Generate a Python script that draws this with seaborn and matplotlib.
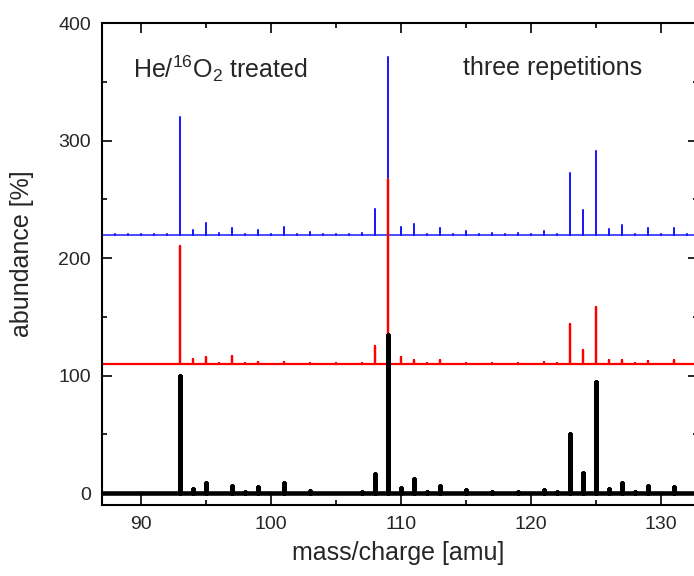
import numpy as np
import pandas as pd
import matplotlib
matplotlib.use("Agg")
import matplotlib.pyplot as plt
import seaborn as sns

# ---------------- data ----------------
masses = list(range(88, 133))
black_vals = [0.5, 0.5, 0.3, 0.5, 0.3, 100, 4, 8.5, 0.5, 6, 1, 5, 0.5, 9, 0.5,
              1.5, 0.3, 0.5, 0.3, 1, 16, 135, 4.5, 12, 0.8, 6.5, 0.5, 2.5, 0.3,
              1, 0.3, 1, 0.3, 2.5, 0.8, 50, 17.5, 95, 3.5, 8.5, 1, 6.5, 0.5, 5.5, 0.5]
red_vals = [0.3, 0.3, 0.3, 0.3, 0.3, 100, 4, 6, 0.5, 6.5, 0.5, 1.5, 0.3, 2, 0.3,
            0.8, 0.3, 0.5, 0.3, 0.8, 15, 157, 6, 3, 0.5, 3, 0.3, 1, 0.3,
            0.8, 0.3, 0.8, 0.3, 1.5, 0.5, 34, 12, 48, 3, 3, 0.5, 2.5, 0.3, 3, 0.3]
blue_vals = [0.3, 0.3, 0.3, 0.3, 0.3, 100, 4.3, 10, 1, 5.5, 0.5, 4, 0.5, 6.3, 0.3,
             2, 0.3, 0.5, 0.3, 1.5, 22, 151, 6.5, 9, 0.8, 6, 0.3, 3, 0.3,
             1, 0.3, 1, 0.3, 3, 0.5, 52, 21, 71, 5, 8.5, 0.5, 6, 0.3, 6, 0.5]
offsets = {"black": 0, "red": 110, "blue": 220}
x_ticks = [90, 100, 110, 120, 130]
y_ticks = [0, 100, 200, 300, 400]
x_limits = (87, 132.85)
y_limits = (-10, 400)

# ---------------- style ----------------
sns.set_style("ticks")
plt.rcParams["font.family"] = ["Liberation Sans", "DejaVu Sans"]
plt.rcParams["mathtext.fontset"] = "custom"
plt.rcParams["mathtext.rm"] = "Liberation Sans"
plt.rcParams["mathtext.it"] = "Liberation Sans:italic"
plt.rcParams["mathtext.bf"] = "Liberation Sans:bold"


def stick_path(vals, base):
    xs, ys = [x_limits[0]], [base]
    for m, v in zip(masses, vals):
        xs += [m, m, m]
        ys += [base, base + v, base]
    xs.append(x_limits[1])
    ys.append(base)
    return pd.DataFrame({"x": xs, "y": ys})


fig = plt.figure(figsize=(6.94, 5.76), dpi=100)
ax = fig.add_axes([102 / 694, (576 - 505) / 576, 596 / 694, (505 - 23) / 576])

series = [("blue", blue_vals, "#1a1aff", 1.1),
          ("red", red_vals, "#ff0000", 1.6),
          ("black", black_vals, "#000000", 3.3)]
for name, vals, col, lw in series:
    df = stick_path(vals, offsets[name])
    sns.lineplot(data=df, x="x", y="y", estimator=None, sort=False,
                 color=col, lw=lw, ax=ax, solid_joinstyle="round")

ax.set_xlim(*x_limits)
ax.set_ylim(*y_limits)
ax.set_xticks(x_ticks)
ax.set_yticks(y_ticks)
ax.set_xticks([95, 105, 115, 125], minor=True)
ax.set_yticks([50, 150, 250, 350], minor=True)
ax.tick_params(which="both", direction="in", top=True, right=True,
               labelsize=14, width=1.2, color="black", pad=8)
ax.tick_params(which="major", length=7)
ax.tick_params(which="minor", length=3.6)
for s in ax.spines.values():
    s.set_linewidth(1.5)
    s.set_color("black")

ax.set_xlabel("mass/charge [amu]", fontsize=18)
ax.set_ylabel("abundance [%]", fontsize=18)
ax.xaxis.set_label_coords(0.5 * 592 / 596, -0.074)
ax.yaxis.set_label_coords(-0.115 * 592 / 596, 0.521)

ax.text(89.38, 353, r"He/$\mathregular{^{16}}$O$\mathregular{_2}$ treated",
        fontsize=18, ha="left", va="baseline")
ax.text(114.8, 355.7, "three repetitions", fontsize=18, ha="left", va="baseline")

fig.savefig("out.png", dpi=100)
